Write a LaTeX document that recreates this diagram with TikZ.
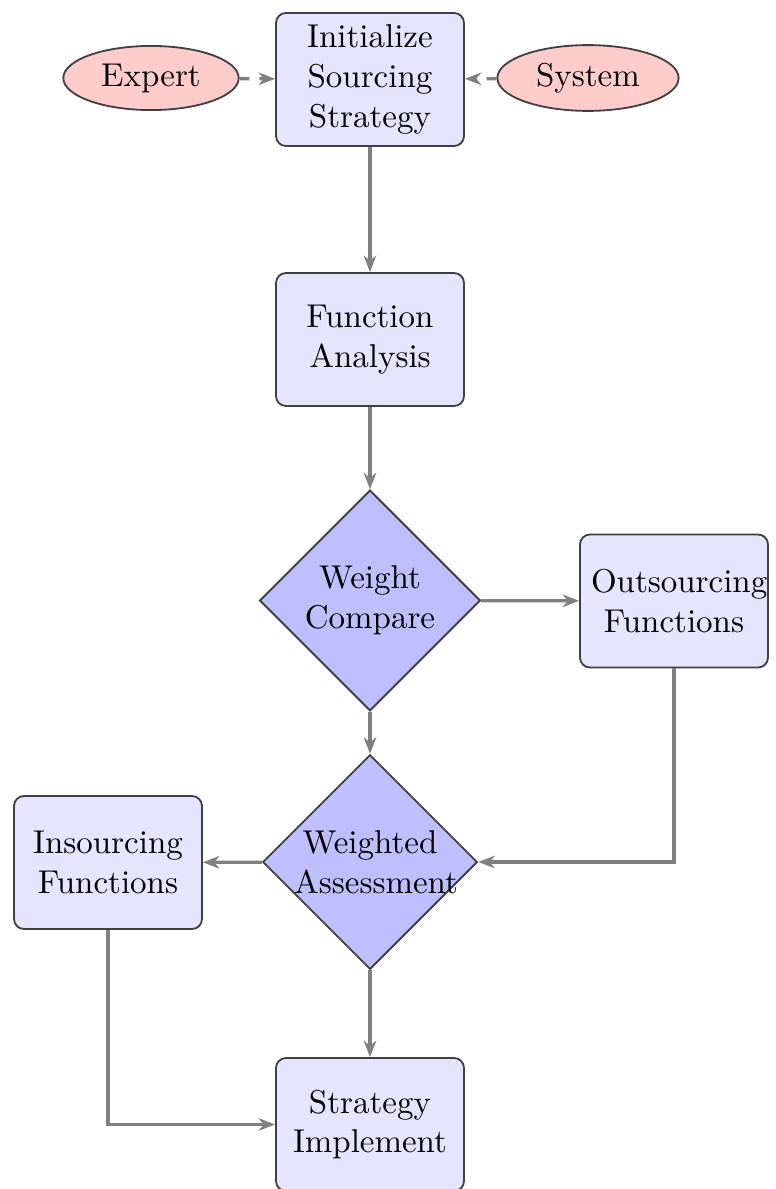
\documentclass[tikz,border=0pt]{standalone}
\usetikzlibrary{shapes.geometric,arrows.meta}
\begin{document}
\begin{tikzpicture}[x=0.30303pt,y=-0.30303pt,
  box/.style={rectangle, rounded corners=3pt, draw=black!75, line width=0.55pt, fill=blue!10,
    text width=50.3pt, align=center, minimum height=40.3pt, inner sep=3.33pt},
  dec/.style={diamond, aspect=1, draw=black!75, line width=0.55pt, fill=blue!25,
    text width=46pt, align=center, inner sep=0pt,
    execute at begin node={\hyphenpenalty=10000\exhyphenpenalty=10000}},
  src/.style={ellipse, draw=black!75, line width=0.55pt, fill=red!20,
    inner xsep=3.7pt, inner ysep=2.5pt},
  arr/.style={draw=gray, line width=1pt, -{Stealth[length=5pt,width=3.8pt,inset=1.6pt]}},
  darr/.style={arr, dashed}]
\useasboundingbox (0,0) rectangle (775,1189);
\node[box] (init) at (370,79.5) {Initialize Sourcing Strategy};
\node[src] (expert) at (151,78) {Expert};
\node[src] (system) at (588,78) {System};
\node[box] (fa) at (370,339.5) {Function Analysis};
\node[dec] (wc) at (370,600.5) {Weight Compare};
\node[box] (out) at (674,601) {Outsourcing Functions};
\node[dec] (wa) at (370,862) {Weighted Assessment};
\node[box] (ins) at (108,862.5) {Insourcing Functions};
\node[box] (si) at (370,1124.5) {Strategy Implement};

\draw[darr] (expert) -- (init);
\draw[darr] (system) -- (init);
\draw[arr] (init) -- (fa);
\draw[arr] (fa) -- (wc);
\draw[arr] (wc) -- (out);
\draw[arr] (wc) -- (wa);
\draw[arr] (out.south) |- (wa.east);
\draw[arr] (wa) -- (ins);
\draw[arr] (wa) -- (si);
\draw[arr] (ins.south) |- (si.west);
\end{tikzpicture}
\end{document}
